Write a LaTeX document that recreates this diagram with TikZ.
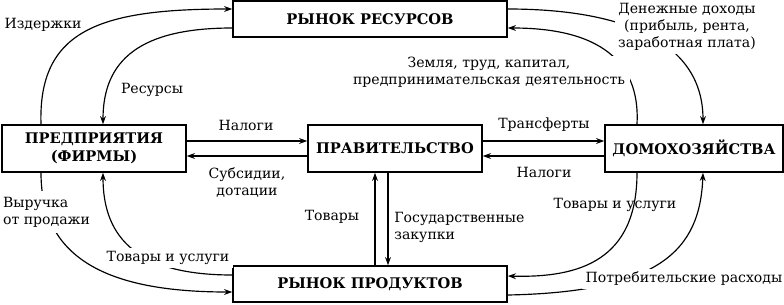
\documentclass[tikz,border=0pt]{standalone}
\usepackage{fontspec}
\setmainfont{DejaVu Serif}
\usetikzlibrary{positioning, arrows.meta, calc}

\begin{document}
\begin{tikzpicture}[>={Stealth[length=7pt, width=5pt]}, x=0.03cm, y=-0.03cm,
    box/.style={draw, line width=1.3pt, inner sep=0pt, align=center,
        font=\fontsize{12.5}{15}\selectfont\bfseries},
    lbl/.style={font=\fontsize{12}{14.5}\selectfont, align=center, inner sep=1pt},
    cut/.style={lbl, fill=white, inner sep=3pt},
    flow/.style={->, line width=1pt}]
\useasboundingbox (0,0) rectangle (784,304);

% boxes
\node[box, minimum width=8.22cm, minimum height=1.08cm] (res) at (370,19) {РЫНОК РЕСУРСОВ};
\node[box, minimum width=5.52cm, minimum height=1.41cm] (firm) at (94,148.5) {ПРЕДПРИЯТИЯ\\(ФИРМЫ)};
\node[box, minimum width=5.22cm, minimum height=1.41cm] (gov) at (395,148.5) {ПРАВИТЕЛЬСТВО};
\node[box, minimum width=5.34cm, minimum height=1.41cm] (hh) at (694,148.5) {ДОМОХОЗЯЙСТВА};
\node[box, minimum width=8.22cm, minimum height=1.08cm] (prod) at (370,284) {РЫНОК ПРОДУКТОВ};

% upper loop
\draw[flow] ([xshift=-1.59cm]firm.north) .. controls (38,30) and (100,9) .. ([yshift=0.3cm]res.west);
\draw[flow] ([yshift=-0.27cm]res.west) .. controls (140,28) and (103,60) .. ([xshift=0.27cm]firm.north);
\draw[flow] ([yshift=0.3cm]res.east) .. controls (620,9) and (703,40) .. ([xshift=0.27cm]hh.north);
\draw[flow] ([xshift=-1.71cm]hh.north) .. controls (640,70) and (610,28) .. ([yshift=-0.27cm]res.east);

% government
\draw[flow] ([yshift=0.225cm]firm.east) -- ([yshift=0.225cm]gov.west);
\draw[flow] ([yshift=-0.225cm]gov.west) -- ([yshift=-0.225cm]firm.east);
\draw[flow] ([yshift=0.225cm]gov.east) -- ([yshift=0.225cm]hh.west);
\draw[flow] ([yshift=-0.225cm]hh.west) -- ([yshift=-0.225cm]gov.east);
\draw[flow] ([xshift=0.15cm]prod.north) -- ([xshift=0.15cm]prod.north |- gov.south);
\draw[flow] ([xshift=0.54cm]prod.north |- gov.south) -- ([xshift=0.54cm]prod.north);

% lower loop
\draw[flow] ([xshift=-1.59cm]firm.south) .. controls (41,260) and (110,292) .. ([yshift=-0.24cm]prod.west);
\draw[flow] ([yshift=0.27cm]prod.west) .. controls (140,275) and (103,240) .. ([xshift=0.27cm]firm.south);
\draw[flow] ([xshift=-1.71cm]hh.south) .. controls (637,260) and (580,278) .. ([yshift=0.24cm]prod.east);
\draw[flow] ([yshift=-0.33cm]prod.east) .. controls (660,292) and (700,250) .. ([xshift=0.27cm]hh.south);

% labels
\node[lbl] (izd) at (43,25) {Издержки};
\node[lbl] (resl) at (152,90) {Ресурсы};
\node[cut] (dohod) at (687,27) {Денежные доходы\\(прибыль, рента,\\заработная плата)};
\node[cut, inner xsep=4pt, inner ysep=1pt] (zeml) at (489,72) {Земля, труд, капитал,\\предпринимательская деятельность};
\node[lbl] (nal1) at (246,125) {Налоги};
\node[lbl] (subs) at (247,183) {Субсидии,\\дотации};
\node[lbl] (trans) at (544,125) {Трансферты};
\node[lbl] (nal2) at (544,172) {Налоги};
\node[lbl] (tov) at (332,217) {Товары};
\node[lbl, anchor=west, align=left] (zak) at (393,227) {Государственные\\закупки};
\node[cut, anchor=west, align=left, inner sep=5pt] (vyr) at (-3,212) {Выручка\\от продажи};
\node[cut] (tuL) at (168,258) {Товары и услуги};
\node[lbl] (tuR) at (615,205) {Товары и услуги};
\node[cut, anchor=east] (potr) at (786,279) {Потребительские расходы};
\end{tikzpicture}
\end{document}
